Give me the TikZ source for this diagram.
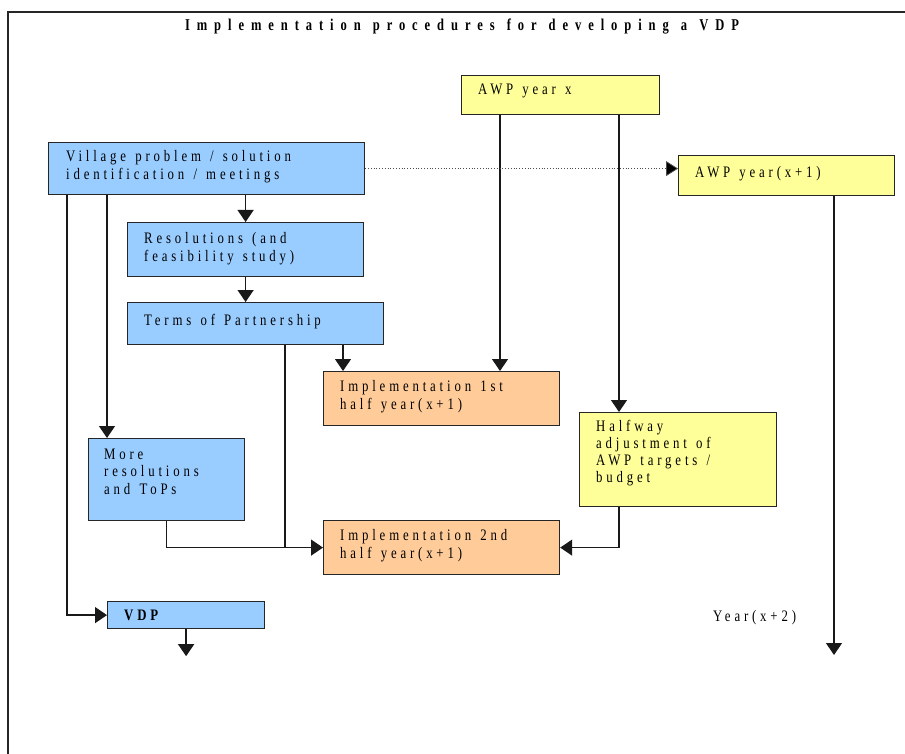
\documentclass[tikz,border=0pt]{standalone}
\usepackage{fontspec}
\usetikzlibrary{arrows.meta}
\newfontfamily\boxfont[FakeStretch=0.8,LetterSpace=24,WordSpace=1.3]{Liberation Serif}
\newfontfamily\titlefont[FakeStretch=0.76,LetterSpace=42,WordSpace=1.2]{Liberation Serif}
\definecolor{bfill}{HTML}{99CCFF}
\definecolor{yfill}{HTML}{FFFF99}
\definecolor{ofill}{HTML}{FFCC99}
\tikzset{
  box/.style={draw=black!85, line width=1.2pt, fill=#1, anchor=north west, inner sep=0pt, rectangle},
  txt/.style={anchor=north west, inner sep=0pt, align=left, font=\boxfont\fontsize{16}{18}\selectfont},
  link/.style={line width=1.3pt, draw=black!90},
  arr/.style={link, -{Triangle[length=12pt,width=16pt]}},
  dotlink/.style={line width=0.8pt, draw=black!70, dotted, -{Triangle[length=12pt,width=15pt,fill=black]}},
}
\begin{document}
\begin{tikzpicture}[x=1pt,y=-1pt]
\useasboundingbox (0,0) rectangle (905,754);
\draw[line width=2pt, black!85] (8,754) -- (8,12) -- (905,12);
\node[anchor=base, inner sep=0pt, font=\titlefont\bfseries\fontsize{16.5}{19}\selectfont] (title) at (462,31) {Implementation procedures for developing a VDP};
% boxes
\node[box=yfill, minimum width=198pt, minimum height=39pt] (awpx) at (461,75) {};
\node[box=bfill, minimum width=316pt, minimum height=52pt] (vil) at (48,142) {};
\node[box=yfill, minimum width=216pt, minimum height=40pt] (awp1) at (678,155) {};
\node[box=bfill, minimum width=236pt, minimum height=54pt] (res) at (127,222) {};
\node[box=bfill, minimum width=256pt, minimum height=42pt] (terms) at (127,302) {};
\node[box=ofill, minimum width=236pt, minimum height=54pt] (imp1) at (323,371) {};
\node[box=yfill, minimum width=197pt, minimum height=94pt] (half) at (579,412) {};
\node[box=bfill, minimum width=156pt, minimum height=82pt] (more) at (88,438) {};
\node[box=ofill, minimum width=236pt, minimum height=54pt] (imp2) at (323,520) {};
\node[box=bfill, minimum width=157pt, minimum height=27pt] (vdp) at (107,601) {};
% texts
\node[txt] (tawpx) at (478,81.4) {\strut AWP year x};
\node[txt] (tvil) at (66,148.4) {\strut Village problem / solution\\\strut identification / meetings};
\node[txt] (tawp1) at (695,164.4) {\strut AWP year(x+1)};
\node[txt] (tres) at (144,230.4) {\strut Resolutions (and\\\strut feasibility study)};
\node[txt] (tterms) at (144,312.4) {\strut Terms of Partnership};
\node[txt] (timp1) at (340,378.4) {\strut Implementation 1st\\\strut half year(x+1)};
\node[txt, font=\boxfont\fontsize{16}{17}\selectfont] (thalf) at (596,419.4) {\strut Halfway\\\strut adjustment of\\\strut AWP targets /\\\strut budget};
\node[txt, font=\boxfont\fontsize{16}{17.5}\selectfont] (tmore) at (104,446.6) {\strut More\\\strut resolutions\\\strut and ToPs};
\node[txt] (timp2) at (340,527.9) {\strut Implementation 2nd\\\strut half year(x+1)};
\node[txt, font=\boxfont\bfseries\fontsize{16}{18}\selectfont] (tvdp) at (124,607.4) {\strut VDP};
\node[txt] (tyear) at (713,608.4) {\strut Year(x+2)};
% free ends
\coordinate (e1) at (834,655);
% connectors
\draw[arr] (vil.south -| res.north) -- (res.north);
\draw[arr] (res.south) -- (res.south |- terms.north);
\draw[arr] ([xshift=20pt]imp1.north west |- terms.south) -- ([xshift=20pt]imp1.north west);
\draw[arr] ([xshift=39pt]awpx.south west) -- ([xshift=39pt]awpx.south west |- imp1.north);
\draw[arr] ([xshift=40pt]half.north west |- awpx.south) -- ([xshift=40pt]half.north west);
\draw[dotlink] (vil.east) -- (vil.east -| awp1.west);
\draw[arr] (awp1.south -| e1) -- (e1);
\draw[arr] ([xshift=19pt]vil.south west) |- (vdp.west);
\draw[arr] ([xshift=19pt]more.north west |- vil.south) -- ([xshift=19pt]more.north west);
\draw[link] ([xshift=158pt]terms.south west) -- ([xshift=158pt]terms.south west |- imp2.west);
\draw[arr] (more.south) |- (imp2.west);
\draw[arr] ([xshift=40pt]half.south west) |- (imp2.east);
\draw[arr] (vdp.south) -- ++(0,27);
\end{tikzpicture}
\end{document}
